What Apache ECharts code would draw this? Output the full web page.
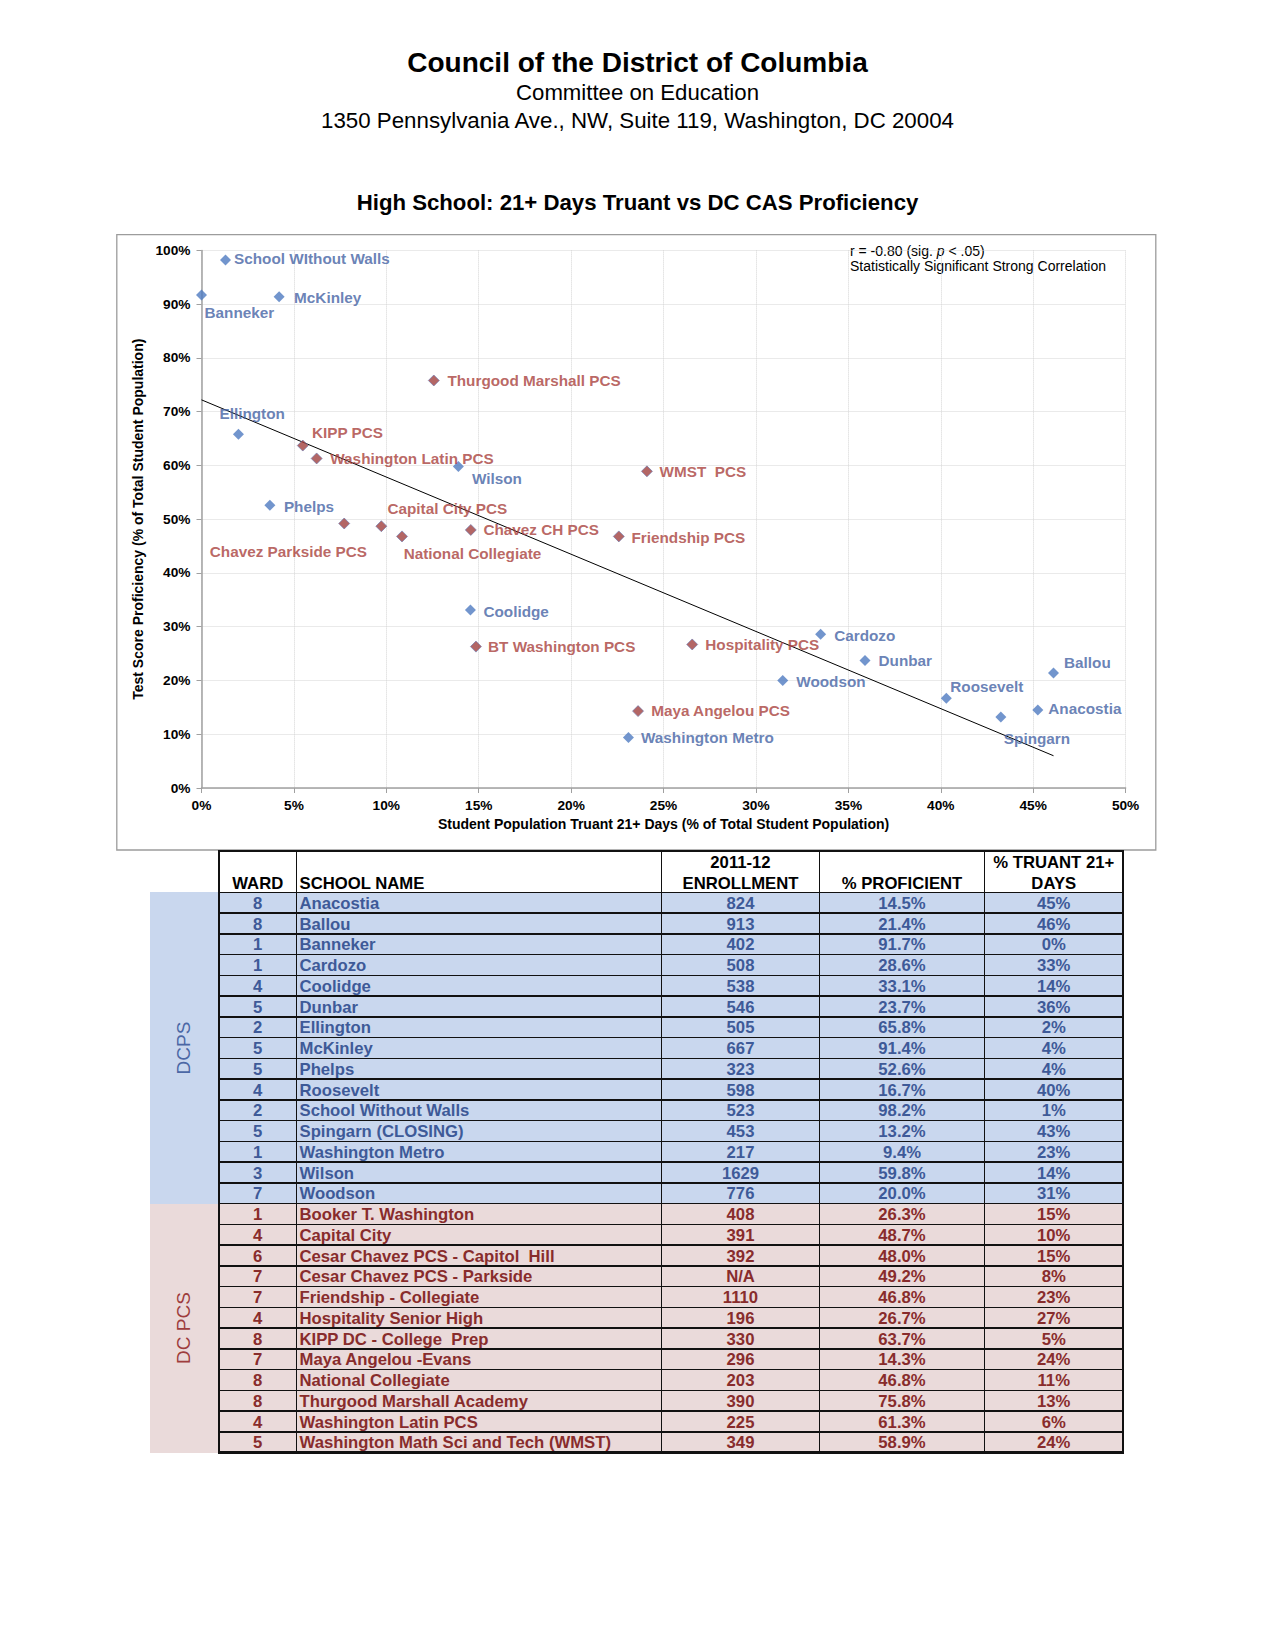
<!DOCTYPE html>
<html><head><meta charset="utf-8">
<script src="https://cdn.jsdelivr.net/npm/echarts@6/dist/echarts.min.js"></script>
<style>
html,body{margin:0;padding:0;background:#fff;}
#main{position:absolute;left:0;top:0;width:1275px;height:1650px;}
#tbl{position:absolute;left:0;top:0;width:1275px;height:1650px;font-family:"Liberation Sans",Arial,Helvetica,sans-serif;}
.c{position:absolute;white-space:pre;font-weight:bold;box-sizing:border-box;}
</style></head><body>
<div id="main"></div><div id="tbl"></div>
<script>
// ---------------- DATA ----------------
// Chart points: DCPS (blue)
const dcpsPointLabels = ['Anacostia','Ballou','Banneker','Cardozo','Coolidge','Dunbar','Ellington','McKinley','Phelps','Roosevelt','School WIthout Walls','Spingarn','Washington Metro','Wilson','Woodson'];
const dcpsTruantPct   = [45.25, 46.1, 0.0, 33.5, 14.55, 35.9, 2.0, 4.2, 3.7, 40.3, 1.3, 43.25, 23.1, 13.9, 31.45];
const dcpsProficientPct = [14.5, 21.4, 91.7, 28.6, 33.1, 23.7, 65.8, 91.4, 52.6, 16.7, 98.2, 13.2, 9.4, 59.8, 20.0];
// Chart points: DC PCS (red)
const pcsPointLabels = ['BT Washington PCS','Capital City PCS','Chavez CH PCS','Chavez Parkside PCS','Friendship PCS','Hospitality PCS','KIPP PCS','Maya Angelou PCS','National Collegiate','Thurgood Marshall PCS','Washington Latin PCS','WMST  PCS'];
const pcsTruantPct   = [14.85, 9.73, 14.57, 7.72, 22.58, 26.55, 5.48, 23.62, 10.85, 12.57, 6.23, 24.1];
const pcsProficientPct = [26.3, 48.7, 48.0, 49.2, 46.8, 26.7, 63.7, 14.3, 46.8, 75.8, 61.3, 58.9];
// Trendline endpoints
const trendLine = [[0, 72.2], [46.1, 6.0]];
// Axis ticks
const xTicks = [0, 5, 10, 15, 20, 25, 30, 35, 40, 45, 50];
const yTicks = [0, 10, 20, 30, 40, 50, 60, 70, 80, 90, 100];

// Table: DCPS
const dcpsWard = ['8','8','1','1','4','5','2','5','5','4','2','5','1','3','7'];
const dcpsSchool = ['Anacostia','Ballou','Banneker','Cardozo','Coolidge','Dunbar','Ellington','McKinley','Phelps','Roosevelt','School Without Walls','Spingarn (CLOSING)','Washington Metro','Wilson','Woodson'];
const dcpsEnrollment = ['824','913','402','508','538','546','505','667','323','598','523','453','217','1629','776'];
const dcpsProficient = ['14.5%','21.4%','91.7%','28.6%','33.1%','23.7%','65.8%','91.4%','52.6%','16.7%','98.2%','13.2%','9.4%','59.8%','20.0%'];
const dcpsTruant = ['45%','46%','0%','33%','14%','36%','2%','4%','4%','40%','1%','43%','23%','14%','31%'];
// Table: DC PCS
const pcsWard = ['1','4','6','7','7','4','8','7','8','8','4','5'];
const pcsSchool = ['Booker T. Washington','Capital City','Cesar Chavez PCS - Capitol  Hill','Cesar Chavez PCS - Parkside','Friendship - Collegiate','Hospitality Senior High','KIPP DC - College  Prep','Maya Angelou -Evans','National Collegiate','Thurgood Marshall Academy','Washington Latin PCS','Washington Math Sci and Tech (WMST)'];
const pcsEnrollment = ['408','391','392','N/A','1110','196','330','296','203','390','225','349'];
const pcsProficient = ['26.3%','48.7%','48.0%','49.2%','46.8%','26.7%','63.7%','14.3%','46.8%','75.8%','61.3%','58.9%'];
const pcsTruant = ['15%','10%','15%','8%','23%','27%','5%','24%','11%','13%','6%','24%'];
const headerLine1 = ['', '', '2011-12', '', '% TRUANT 21+'];
const headerLine2 = ['WARD', 'SCHOOL NAME', 'ENROLLMENT', '% PROFICIENT', 'DAYS'];

// ---------------- STYLE / LAYOUT ----------------
const FONT = '"Liberation Sans", Arial, Helvetica, sans-serif';
const labelOffsets = {
  'School WIthout Walls':[8.5,-2], 'Banneker':[3,17.5], 'McKinley':[15,1], 'Thurgood Marshall PCS':[14,0],
  'Ellington':[-19,-21], 'KIPP PCS':[9.5,-12.5], 'Washington Latin PCS':[14,0], 'Wilson':[13.5,11.5],
  'WMST  PCS':[13,1], 'Phelps':[14,1], 'Chavez Parkside PCS':[-134,28.5], 'Capital City PCS':[6.5,-17],
  'National Collegiate':[2,17], 'Chavez CH PCS':[13,0], 'Friendship PCS':[13,1], 'Coolidge':[13,1],
  'BT Washington PCS':[12.5,0], 'Hospitality PCS':[13.5,0], 'Cardozo':[13.5,1], 'Dunbar':[13.5,0],
  'Woodson':[13.5,1], 'Ballou':[10.5,-10.5], 'Roosevelt':[4,-11.5], 'Anacostia':[10.5,-1.5],
  'Spingarn':[3,21], 'Maya Angelou PCS':[13.5,0], 'Washington Metro':[12.5,0]
};
const SYM = 11;
function points(labels, xs, ys){
  return labels.map((n,i)=>{
    const o = labelOffsets[n] || [13,0];
    return {name:n, value:[xs[i], ys[i]], label:{position:[o[0]+SYM/2, o[1]+SYM/2]}};
  });
}
const chart = echarts.init(document.getElementById('main'), null, {renderer:'svg', width:1275, height:1650});
const axisLabelStyle = {fontFamily:FONT, fontWeight:'bold', fontSize:13.7, color:'#000'};
const option = {
  animation:false,
  backgroundColor:'#fff',
  grid:{left:201.5, top:250.4, right:149.4, bottom:862},
  xAxis:{type:'value', min:xTicks[0], max:xTicks[xTicks.length-1], interval:xTicks[1]-xTicks[0],
    name:'Student Population Truant 21+ Days (% of Total Student Population)', nameLocation:'middle', nameGap:29,
    nameTextStyle:{fontFamily:FONT, fontWeight:'bold', fontSize:14, color:'#000'},
    axisLine:{show:true, onZero:false, lineStyle:{color:'#A0A0A0', width:1.5}},
    axisTick:{show:true, length:5, lineStyle:{color:'#A0A0A0'}},
    axisLabel:Object.assign({formatter:'{value}%', margin:10}, axisLabelStyle),
    splitLine:{show:true, lineStyle:{color:'#D4D4D4', type:[1,1], width:1}}},
  yAxis:{type:'value', min:yTicks[0], max:yTicks[yTicks.length-1], interval:yTicks[1]-yTicks[0],
    name:'Test Score Proficiency (% of Total Student Population)', nameLocation:'middle', nameGap:48.5,
    nameTextStyle:{fontFamily:FONT, fontWeight:'bold', fontSize:14, color:'#000'},
    axisLine:{show:true, onZero:false, lineStyle:{color:'#A0A0A0', width:1.5}},
    axisTick:{show:true, length:5, lineStyle:{color:'#A0A0A0'}},
    axisLabel:Object.assign({formatter:'{value}%', margin:11}, axisLabelStyle),
    splitLine:{show:true, lineStyle:{color:'#D4D4D4', type:[1,1], width:1}}},
  series:[
    {type:'line', data:trendLine, symbol:'none', lineStyle:{color:'#000', width:1}, z:3, silent:true},
    {type:'scatter', name:'DCPS', data:points(dcpsPointLabels, dcpsTruantPct, dcpsProficientPct),
      symbol:'diamond', symbolSize:SYM, itemStyle:{color:'#4F7BC0'}, z:4,
      label:{show:true, formatter:'{b}', color:'#4462A3', fontFamily:FONT, fontWeight:'bold', fontSize:15.3, align:'left', verticalAlign:'middle'}},
    {type:'scatter', name:'DC PCS', data:points(pcsPointLabels, pcsTruantPct, pcsProficientPct),
      symbol:'diamond', symbolSize:SYM, itemStyle:{color:'#A0403E', borderColor:'#6A77AE', borderWidth:0.8}, z:4,
      label:{show:true, formatter:'{b}', color:'#A83F3C', fontFamily:FONT, fontWeight:'bold', fontSize:15.3, align:'left', verticalAlign:'middle'}}
  ],
  graphic:[
    {type:'rect', shape:{x:116.8, y:234.6, width:1039, height:615.4}, style:{fill:'none', stroke:'#9C9C9C', lineWidth:1.3}, z:-1},
    {type:'text', style:{text:'Council of the District of Columbia', x:637.5, y:62, align:'center', verticalAlign:'middle', font:'bold 28px '+FONT, fill:'#000'}},
    {type:'text', style:{text:'Committee on Education', x:637.5, y:92.6, align:'center', verticalAlign:'middle', font:'22.2px '+FONT, fill:'#000'}},
    {type:'text', style:{text:'1350 Pennsylvania Ave., NW, Suite 119, Washington, DC 20004', x:637.5, y:120, align:'center', verticalAlign:'middle', font:'22.3px '+FONT, fill:'#000'}},
    {type:'text', style:{text:'High School: 21+ Days Truant vs DC CAS Proficiency', x:637.5, y:202, align:'center', verticalAlign:'middle', font:'bold 22.2px '+FONT, fill:'#000'}},
    {type:'text', style:{text:'r = -0.80 (sig. {i|p} < .05)\nStatistically Significant Strong Correlation', x:850, y:242.6, align:'left', verticalAlign:'top',
      font:'14px '+FONT, fill:'#000', lineHeight:15.8, rich:{i:{fontStyle:'italic', fontSize:14, fontFamily:FONT, fill:'#000', lineHeight:15.8}}}}
  ]
};
chart.setOption(option);

// ---------------- TABLE (HTML) ----------------
const L = {colX:[219,296.5,661.5,819.5,984.5,1123], top:851, headH:41.3, rowH:20.75, sideX:149.5, lw:1.5, outer:2.5, textDy:1.6};
const tbl = document.getElementById('tbl');
function box(x,y,w,h,bg){const d=document.createElement('div');d.style.cssText=`position:absolute;left:${x}px;top:${y}px;width:${w}px;height:${h}px;background:${bg}`;tbl.appendChild(d);return d;}
function txt(x,y,w,h,t,align,color,size,pad){const d=document.createElement('div');d.className='c';
  d.style.cssText+=`left:${x}px;top:${y+L.textDy}px;width:${w}px;height:${h}px;line-height:${h}px;text-align:${align};color:${color};font-size:${size}px;padding-left:${pad||0}px;`;
  d.textContent=t;tbl.appendChild(d);}
const groups = [
  {ward:dcpsWard, school:dcpsSchool, enr:dcpsEnrollment, prof:dcpsProficient, tru:dcpsTruant, bg:'#C9D7EE', color:'#3E5A98', side:'DCPS', sideColor:'#4B67A5'},
  {ward:pcsWard, school:pcsSchool, enr:pcsEnrollment, prof:pcsProficient, tru:pcsTruant, bg:'#EADADA', color:'#882C2C', side:'DC PCS', sideColor:'#9E3D3D'}
];
const bodyTop = L.top + L.headH;
let r = 0;
const W = L.colX[5]-L.colX[0];
groups.forEach(g=>{
  const gTop = bodyTop + r*L.rowH, gH = g.ward.length*L.rowH;
  box(L.sideX, gTop, L.colX[0]-L.sideX, gH, g.bg);
  box(L.colX[0], gTop, W, gH, g.bg);
  const s=document.createElement('div');
  s.style.cssText=`position:absolute;left:${(L.sideX+L.colX[0])/2-60}px;top:${gTop+gH/2-12}px;width:120px;height:24px;line-height:24px;text-align:center;font-size:19px;color:${g.sideColor};transform:rotate(-90deg);white-space:pre;`;
  s.textContent=g.side; tbl.appendChild(s);
  g.ward.forEach((w,i)=>{
    const y = bodyTop + r*L.rowH;
    const cells=[w,g.school[i],g.enr[i],g.prof[i],g.tru[i]];
    cells.forEach((c,k)=>{
      txt(L.colX[k], y, L.colX[k+1]-L.colX[k], L.rowH, c, k===1?'left':'center', g.color, 16.7, k===1?3:0);
    });
    r++;
  });
});
const bottom = bodyTop + r*L.rowH;
// header text
headerLine1.forEach((t,k)=>{ if(t) txt(L.colX[k], L.top+0.3, L.colX[k+1]-L.colX[k], 20.6, t, 'center', '#000', 16.7, 0); });
headerLine2.forEach((t,k)=>{ txt(L.colX[k], L.top+20.9, L.colX[k+1]-L.colX[k], 20.6, t, k===1?'left':'center', '#000', 16.7, k===1?3:0); });
// horizontal lines
box(L.colX[0], L.top-L.lw/2, W, L.lw, '#111');
for(let i=0;i<=r;i++){
  const y = bodyTop + i*L.rowH;
  const lw = (i===r)?L.outer:L.lw;
  box(L.colX[0], y-lw/2, W, lw, '#111');
}
// vertical lines
L.colX.forEach((x,k)=>{
  const lw = (k===0||k===5)?L.outer:L.lw;
  box(x-lw/2, L.top-L.lw/2, lw, bottom-L.top+L.lw/2+L.outer/2, '#111');
});
</script>
</body></html>
